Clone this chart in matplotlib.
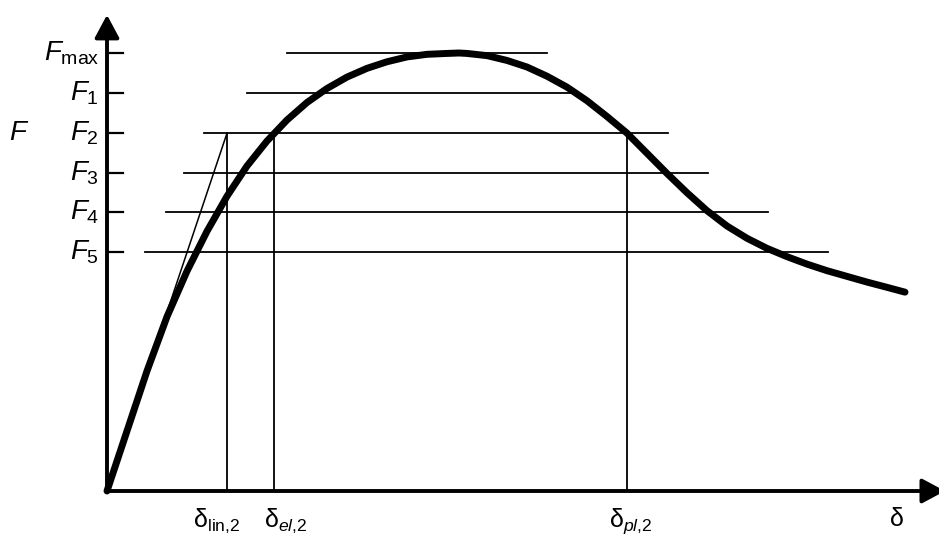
import matplotlib.pyplot as plt

plt.rcParams['font.family'] = ['Liberation Sans', 'DejaVu Sans']
plt.rcParams['mathtext.fontset'] = 'custom'
plt.rcParams['mathtext.rm'] = 'Liberation Sans'
plt.rcParams['mathtext.it'] = 'Liberation Sans:italic'

# force levels (Fmax down to F5) and the horizontal reference lines at each level
f_names = ['max', '1', '2', '3', '4', '5']
f_levels = [10.0, 9.09, 8.17, 7.26, 6.37, 5.46]
line_start = [4.5, 3.5, 2.43, 1.93, 1.48, 0.95]
line_end = [11.0, 11.78, 14.03, 15.03, 16.53, 18.03]

# displacements at F2
d_lin = 3.0
d_el = 4.18
d_pl = 13.0

# load-displacement curve
curve_d = [0.0, 0.5, 1.0, 1.5, 2.0, 2.5, 3.0, 3.5, 4.0, 4.5, 5.0, 5.5, 6.0,
           6.5, 7.0, 7.5, 8.0, 8.5, 8.8, 9.0, 9.5, 10.0, 10.5, 11.0, 11.5,
           12.0, 12.5, 13.0, 13.5, 14.0, 14.5, 15.0, 15.5, 16.0, 16.5, 17.0,
           17.5, 18.0, 18.5, 19.0, 19.5, 19.95]
curve_f = [0.0, 1.37, 2.74, 3.98, 5.02, 5.93, 6.73, 7.42, 7.99, 8.47, 8.87,
           9.19, 9.45, 9.65, 9.80, 9.91, 9.97, 9.99, 10.0, 9.99, 9.94, 9.83,
           9.68, 9.47, 9.22, 8.91, 8.55, 8.17, 7.71, 7.25, 6.81, 6.40, 6.05,
           5.77, 5.54, 5.35, 5.18, 5.03, 4.90, 4.77, 4.65, 4.54]

fig = plt.figure(figsize=(9.39, 5.38), dpi=100)
ax = fig.add_axes([0, 0, 1, 1])
ax.set_xlim(-2.675, 20.8)
ax.set_ylim(-1.073, 11.21)
ax.axis('off')

# axes with arrows
arrow = dict(arrowstyle='-|>,head_length=1.4,head_width=0.75', lw=2.8,
             color='black', shrinkA=0, shrinkB=0)
ax.annotate('', xy=(0, 10.87), xytext=(0, 0), arrowprops=arrow,
            annotation_clip=False)
ax.annotate('', xy=(20.95, 0), xytext=(0, 0), arrowprops=arrow,
            annotation_clip=False)

f2 = f_levels[2]
for fl, x0, x1, name in zip(f_levels, line_start, line_end, f_names):
    ax.plot([x0, x1], [fl, fl], color='black', lw=1.3)
    ax.plot([0, 0.4], [fl, fl], color='black', lw=1.6)
    ax.text(-0.2, fl, r'$F_{\mathrm{%s}}$' % name, ha='right', va='center',
            fontsize=20)

ax.text(-2.2, f2, r'$F$', ha='center', va='center', fontsize=20)

# secant to F2 and the three displacement markers
ax.plot([0, d_lin], [0, f2], color='black', lw=1.1)
for d in (d_lin, d_el, d_pl):
    ax.plot([d, d], [0, f2], color='black', lw=1.3)

ax.plot(curve_d, curve_f, color='black', lw=5, solid_joinstyle='round',
        solid_capstyle='round')

ax.text(d_lin - 0.25, -0.36, r'δ$_{\mathrm{lin{,}2}}$', ha='center', va='top',
        fontsize=18)
ax.text(d_el + 0.3, -0.36, r'δ$_{el\mathrm{{,}2}}$', ha='center', va='top',
        fontsize=18)
ax.text(d_pl + 0.1, -0.36, r'δ$_{pl\mathrm{{,}2}}$', ha='center', va='top',
        fontsize=18)
ax.text(19.75, -0.36, 'δ', ha='center', va='top', fontsize=18)

fig.savefig('out.png', dpi=100)
